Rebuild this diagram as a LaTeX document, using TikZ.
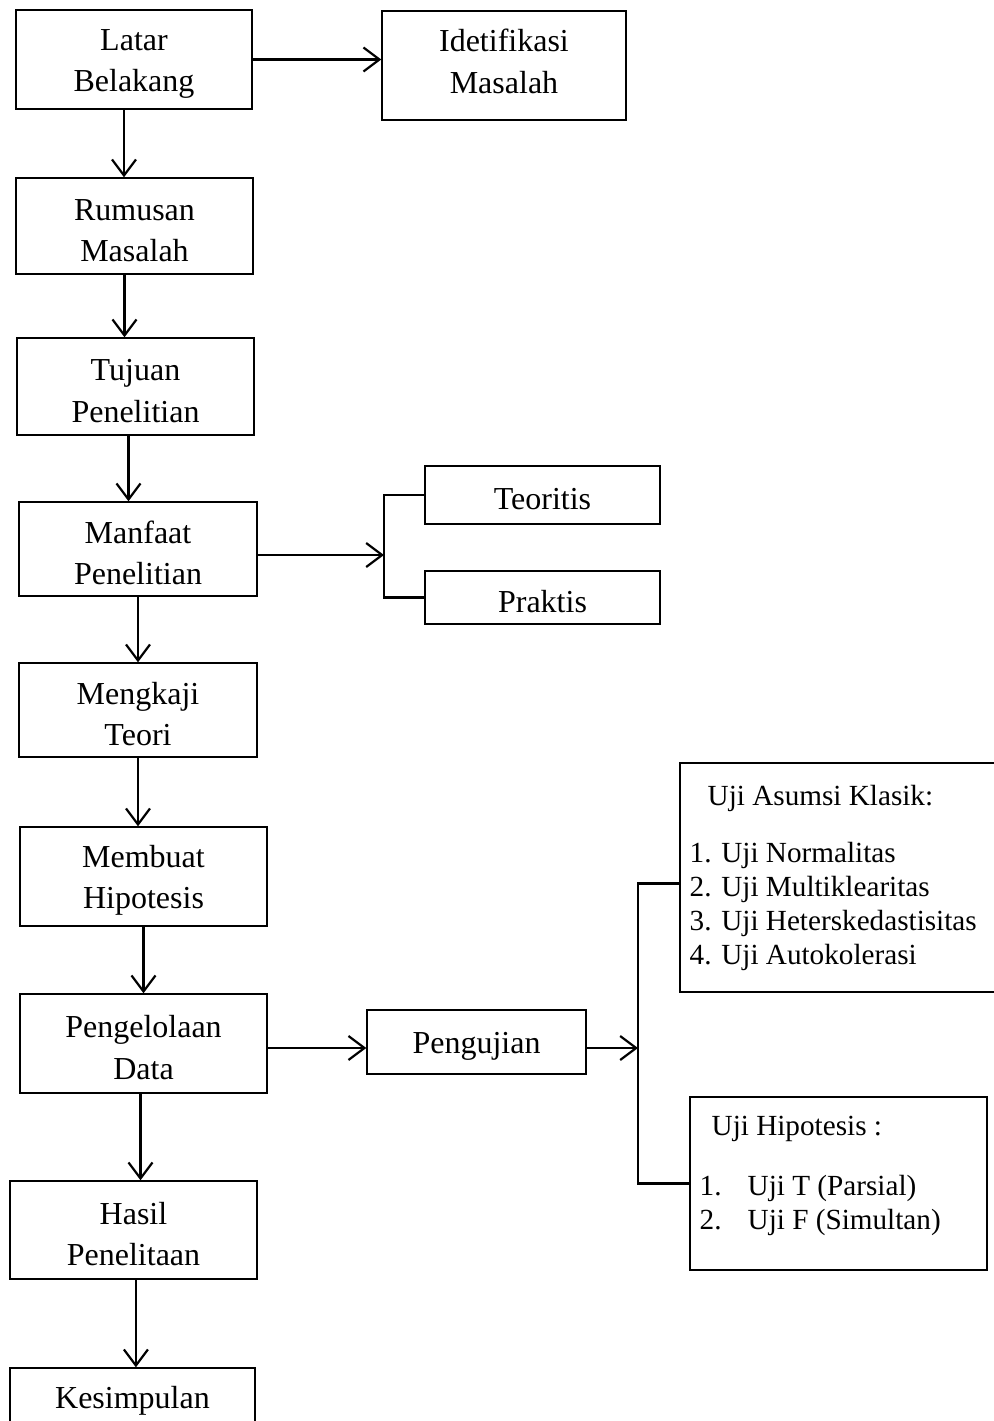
\documentclass[tikz,border=0pt]{standalone}
\usepackage{fontspec}
\setmainfont{Liberation Serif}
\usetikzlibrary{arrows.meta}
\newcommand{\boxfont}{\fontsize{16}{20.8}\selectfont}
\newcommand{\listfont}{\fontsize{14.6}{17}\selectfont}
\newcommand{\topstrut}{\rule{0pt}{15pt}}
\tikzset{box/.style={draw, line width=0.7pt, align=center, font=\boxfont, inner sep=0pt}}
\tikzset{listbox/.style={draw, line width=0.7pt, inner sep=0pt}}
\tikzset{listtext/.style={align=left, font=\listfont, inner sep=0pt, anchor=west}}
\tikzset{arr/.style={line width=1.1pt, -{Straight Barb[length=8pt,width=12pt,line width=1.1pt]}}}
\tikzset{link/.style={line width=1.1pt}}

\begin{document}
\begin{tikzpicture}[x=0.5pt, y=-0.5pt]
\useasboundingbox (0,0) rectangle (993,1421);
\node[box, minimum width=118pt, minimum height=49.5pt] (latar) at (134,59.5) {\topstrut Latar\\Belakang};
\node[box, minimum width=122pt, minimum height=54.5pt] (ident) at (504,65.5) {Idetifikasi\\Masalah\rule[-4pt]{0pt}{4pt}};
\node[box, minimum width=118.5pt, minimum height=48pt] (rumusan) at (134.5,226) {\topstrut Rumusan\\Masalah};
\node[box, minimum width=118.5pt, minimum height=48.5pt] (tujuan) at (135.5,386.5) {\topstrut Tujuan\\Penelitian};
\node[box, minimum width=119pt, minimum height=47pt] (manfaat) at (138,549) {\topstrut Manfaat\\Penelitian};
\node[box, minimum width=117.5pt, minimum height=29pt] (teoritis) at (542.5,495) {\topstrut Teoritis};
\node[box, minimum width=117.5pt, minimum height=26.5pt] (praktis) at (542.5,597.5) {\topstrut Praktis};
\node[box, minimum width=119pt, minimum height=47pt] (mengkaji) at (138,710) {\topstrut Mengkaji\\Teori};
\node[box, minimum width=123.5pt, minimum height=49.5pt] (membuat) at (143.5,876.5) {\topstrut Membuat\\Hipotesis};
\node[box, minimum width=123.5pt, minimum height=49.5pt] (data) at (143.5,1043.5) {\topstrut Pengelolaan\\Data};
\node[box, minimum width=109.5pt, minimum height=32pt] (pengujian) at (476.5,1042) {\topstrut Pengujian};
\node[box, minimum width=123.5pt, minimum height=49pt] (hasil) at (133.5,1230) {\topstrut Hasil\\Penelitaan};
\node[box, minimum width=122.5pt, minimum height=29pt] (kesimpulan) at (132.5,1397) {\topstrut Kesimpulan};

\node[listbox, minimum width=160pt, minimum height=114.5pt] (asumsi) at (840,877.5) {};
\node[listtext] (asumsitext) at ([xshift=5pt]asumsi.west) {\hspace*{9pt}Uji Asumsi Klasik:\\[11.5pt]1. Uji Normalitas\\2. Uji Multiklearitas\\3. Uji Heterskedastisitas\\4. Uji Autokolerasi};
\node[listbox, minimum width=148.5pt, minimum height=86.5pt] (hipotesis) at (838.5,1183.5) {};
\node[listtext] (hipotesistext) at ([shift={(10,-7.5)}]hipotesis.west) {\hspace*{6pt}Uji Hipotesis :\\[13pt]\makebox[24pt][l]{1.}Uji T (Parsial)\\\makebox[24pt][l]{2.}Uji F (Simultan)};

\coordinate (fork1) at (384,555);
\coordinate (fork2) at (638,1048);

\draw[arr] (latar.east) -- (latar.east -| ident.west);
\draw[arr] ([xshift=-5pt]latar.south) -- ([xshift=-5pt]latar.south |- rumusan.north);
\draw[arr] ([xshift=-5pt]rumusan.south) -- ([xshift=-5pt]rumusan.south |- tujuan.north);
\draw[arr] ([xshift=-3.5pt]tujuan.south) -- ([xshift=-3.5pt]tujuan.south |- manfaat.north);
\draw[arr] (manfaat.south) -- (manfaat.south |- mengkaji.north);
\draw[arr] (mengkaji.south) -- (mengkaji.south |- membuat.north);
\draw[arr] (membuat.south) -- (membuat.south |- data.north);
\draw[arr] ([xshift=-1.5pt]data.south) -- ([xshift=-1.5pt]data.south |- hasil.north);
\draw[arr] ([xshift=1.2pt]hasil.south) -- ([xshift=1.2pt]hasil.south |- kesimpulan.north);

\draw[arr] (manfaat.east |- fork1) -- (fork1);
\draw[link] (teoritis.west) -| (fork1) |- (praktis.west);
\draw[arr] (data.east |- fork2) -- (pengujian.west |- fork2);
\draw[arr] (pengujian.east |- fork2) -- (fork2);
\draw[link] ([yshift=-3pt]asumsi.west) -| (fork2) |- (hipotesis.west);
\end{tikzpicture}
\end{document}
